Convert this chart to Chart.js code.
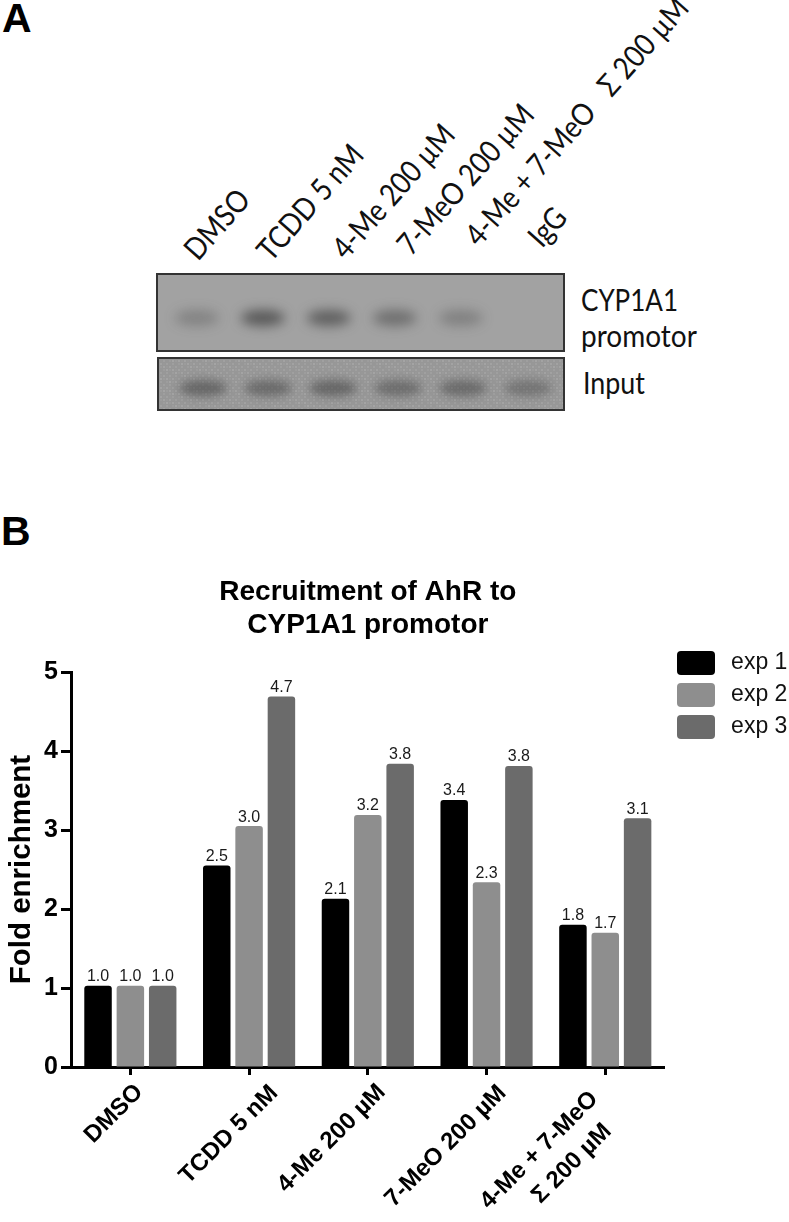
<!DOCTYPE html>
<html>
<head>
<meta charset="utf-8">
<title>Recruitment of AhR to CYP1A1 promotor</title>
<script src="https://cdn.jsdelivr.net/npm/chart.js@4"></script>
<style>
    html, body { margin: 0; background: #fff; }
    body { position: relative; width: 789px; height: 1222px; overflow: hidden; }
    canvas, svg { position: absolute; }
    #panelText { left: 0; top: 0; }
    #blotTop { left: 156px; top: 273px; }
    #blotInput { left: 157px; top: 357px; }
    #barChart { left: 0; top: 560px; }
</style>
</head>
<body>
<svg id="panelText" width="789" height="560" xmlns="http://www.w3.org/2000/svg">
    <g font-family="Liberation Sans" font-weight="bold" font-size="41" fill="#000">
        <text x="2" y="32">A</text>
        <text x="1" y="545">B</text>
    </g>
    <g font-family="Lato" font-size="28" fill="#111" xml:space="preserve">
        <text transform="translate(198,262) rotate(-48.5) scale(.96,1.1)">DMSO</text>
        <text transform="translate(271,263) rotate(-48.5) scale(.96,1.1)">TCDD 5 nM</text>
        <text transform="translate(346,261) rotate(-48.5) scale(.96,1.1)">4-Me 200 µM</text>
        <text transform="translate(411,257) rotate(-48.5) scale(.96,1.1)">7-MeO 200 µM</text>
        <text transform="translate(479,248) rotate(-48.5) scale(.96,1.1)" style="white-space:pre">4-Me + 7-MeO   Σ 200 µM</text>
        <text transform="translate(542,249) rotate(-48.5) scale(.96,1.1)">IgG</text>
        <text transform="translate(581,311) scale(.93,1.1)">CYP1A1</text>
        <text transform="translate(581,347) scale(1,1.1)">promotor</text>
        <text transform="translate(583,394) scale(.96,1.1)">Input</text>
    </g>
</svg>
<canvas id="blotTop" width="409" height="79"></canvas>
<canvas id="blotInput" width="408" height="54"></canvas>
<canvas id="barChart" width="789" height="662"></canvas>

<script>
// Lanes of the two blots, band strength read by eye (0 = no band)
const lanes = [0, 1, 2, 3, 4, 5];
const promotorBands = [0.3, 0.72, 0.66, 0.5, 0.32, 0];
const inputBands = [0.55, 0.5, 0.55, 0.48, 0.5, 0.4];

// Bar chart data
const categories = ["DMSO", "TCDD 5 nM", "4-Me 200 µM", "7-MeO 200 µM", ["4-Me + 7-MeO", "Σ 200 µM  "]];
const exp1 = [1.03, 2.55, 2.13, 3.38, 1.8];
const exp2 = [1.03, 3.05, 3.19, 2.34, 1.7];
const exp3 = [1.03, 4.69, 3.84, 3.81, 3.15];
const exp1Labels = ["1.0", "2.5", "2.1", "3.4", "1.8"];
const exp2Labels = ["1.0", "3.0", "3.2", "2.3", "1.7"];
const exp3Labels = ["1.0", "4.7", "3.8", "3.8", "3.1"];
const yTicks = [0, 1, 2, 3, 4, 5];

// Tick labels are not anchored the same way in the original
const labelShiftX = [9, 25, 14, 16, -11];
const labelShiftY = [0, 1, 0, 1, 7];

// Draws blurred bands on the blot, at the points the scatter scales give
const bandPlugin = {
    id: "bands",
    afterDatasetsDraw(chart, args, opts) {
        const ctx = chart.ctx;
        const points = chart.getDatasetMeta(0).data;
        ctx.save();
        if (opts.speckle) {
            for (let x = 0; x < chart.width; x += 3) {
                for (let y = 0; y < chart.height; y += 3) {
                    ctx.fillStyle = "rgba(225,225,225," + (((x * 31 + y * 17) % 11) / 55) + ")";
                    ctx.fillRect(x, y, 2, 2);
                }
            }
        }
        ctx.filter = "blur(" + opts.blur + "px)";
        points.forEach((p, i) => {
            ctx.fillStyle = "rgba(60,60,60," + opts.strengths[i] + ")";
            ctx.beginPath();
            ctx.ellipse(p.x, p.y, opts.rx, opts.ry, 0, 0, Math.PI * 2);
            ctx.fill();
        });
        ctx.restore();
        // frame
        ctx.strokeStyle = "#333";
        ctx.lineWidth = 2;
        ctx.strokeRect(1, 1, chart.width - 2, chart.height - 2);
    },
    beforeDraw(chart, args, opts) {
        chart.ctx.fillStyle = opts.background;
        chart.ctx.fillRect(0, 0, chart.width, chart.height);
    },
};

function makeBlot(id, strengths, xMin, xMax, yMax, bandOpts) {
    new Chart(document.getElementById(id), {
        type: "scatter",
        data: {
            datasets: [{ data: lanes.map((l) => ({ x: l, y: 0 })), pointRadius: 0 }],
        },
        options: {
            responsive: false,
            animation: false,
            layout: { padding: 0 },
            plugins: {
                legend: { display: false },
                tooltip: { enabled: false },
                bands: Object.assign({ strengths: strengths }, bandOpts),
            },
            scales: {
                x: { type: "linear", display: false, min: xMin, max: xMax },
                y: { type: "linear", display: false, min: -1, max: yMax },
            },
        },
        plugins: [bandPlugin],
    });
}

makeBlot("blotTop", promotorBands, -0.62, 5.58, 1.32, { background: "#a2a2a2", blur: 6, rx: 22, ry: 8, speckle: false });
makeBlot("blotInput", inputBands, -0.71, 5.57, 1.35, { background: "#979797", blur: 5, rx: 24, ry: 8, speckle: true });

// Value above each bar, the legend moved up beside the plot, tick labels nudged
const barLabelPlugin = {
    id: "barLabels",
    afterLayout(chart) {
        chart.legend.left = 669;
        chart.legend.top = 83;
    },
    beforeDraw(chart) {
        if (chart.$labelsMoved) return;
        chart.scales.x.getLabelItems().forEach((item, i) => {
            item.options.translation[0] += labelShiftX[i];
            item.options.translation[1] += labelShiftY[i];
        });
        chart.$labelsMoved = true;
    },
    afterDatasetsDraw(chart) {
        const ctx = chart.ctx;
        ctx.save();
        ctx.font = "16px 'Liberation Sans'";
        ctx.fillStyle = "#1a1a1a";
        ctx.textAlign = "center";
        ctx.textBaseline = "bottom";
        chart.data.datasets.forEach((dataset, d) => {
            chart.getDatasetMeta(d).data.forEach((bar, i) => {
                ctx.fillText(dataset.valueLabels[i], bar.x, bar.y - 1);
            });
        });
        ctx.restore();
    },
};

new Chart(document.getElementById("barChart"), {
    type: "bar",
    data: {
        labels: categories,
        datasets: [
            { label: "exp 1", data: exp1, valueLabels: exp1Labels, backgroundColor: "#000000" },
            { label: "exp 2", data: exp2, valueLabels: exp2Labels, backgroundColor: "#8e8e8e" },
            { label: "exp 3", data: exp3, valueLabels: exp3Labels, backgroundColor: "#6b6b6b" },
        ],
    },
    options: {
        responsive: false,
        animation: false,
        categoryPercentage: 0.817,
        barPercentage: 0.85,
        borderRadius: { topLeft: 3, topRight: 3 },
        borderSkipped: "bottom",
        layout: { padding: { left: 0, right: -4, top: 0, bottom: 0 } },
        plugins: {
            tooltip: { enabled: false },
            title: {
                display: true,
                fullSize: false,
                text: ["Recruitment of AhR to", "CYP1A1 promotor"],
                color: "#000",
                font: { family: "Liberation Sans", size: 28, weight: "bold", lineHeight: 1.18 },
                padding: { top: 16, bottom: 30 },
            },
            legend: {
                position: "right",
                align: "start",
                labels: {
                    color: "#111",
                    font: { family: "Liberation Sans", size: 23 },
                    boxWidth: 38,
                    boxHeight: 24,
                    padding: 8,
                    useBorderRadius: true,
                    borderRadius: 4,
                    generateLabels(chart) {
                        return chart.data.datasets.map((ds, i) => ({
                            text: "\u2009" + ds.label,
                            fillStyle: ds.backgroundColor,
                            strokeStyle: ds.backgroundColor,
                            lineWidth: 0,
                            borderRadius: 4,
                            fontColor: "#111",
                            datasetIndex: i,
                        }));
                    },
                },
            },
        },
        scales: {
            x: {
                afterFit(scale) { scale.height = 155; },
                border: { color: "#000", width: 3 },
                grid: { offset: false, drawOnChartArea: false, tickColor: "#000", tickWidth: 3, tickLength: 8 },
                ticks: {
                    color: "#000",
                    font: { family: "Liberation Sans", size: 24, weight: "bold", lineHeight: 1.35 },
                    minRotation: 45,
                    maxRotation: 45,
                    autoSkip: false,
                    padding: 2,
                },
            },
            y: {
                min: 0,
                max: 5,
                afterFit(scale) { scale.width = 71; },
                afterBuildTicks(scale) { scale.ticks = yTicks.map((v) => ({ value: v })); },
                border: { color: "#000", width: 3 },
                grid: { drawOnChartArea: false, tickColor: "#000", tickWidth: 3, tickLength: 10 },
                ticks: {
                    color: "#000",
                    font: { family: "Liberation Sans", size: 25, weight: "bold" },
                    padding: 3,
                },
                title: {
                    display: true,
                    text: "Fold enrichment",
                    color: "#000",
                    font: { family: "Liberation Sans", size: 29.5, weight: "bold" },
                    padding: { top: 4, bottom: 0 },
                },
            },
        },
    },
    plugins: [barLabelPlugin],
});
</script>
</body>
</html>
